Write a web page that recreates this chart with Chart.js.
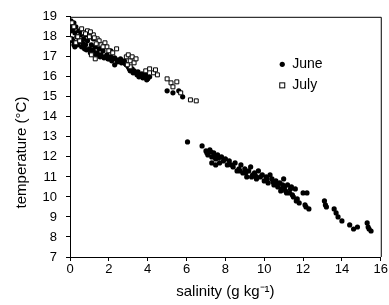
<!DOCTYPE html>
<html>
<head>
<meta charset="utf-8">
<script src="https://cdn.jsdelivr.net/npm/chart.js@4/dist/chart.umd.min.js"></script>
<style>
  html, body { margin: 0; padding: 0; background: #fff; }
  #wrap { width: 389px; height: 305px; }
</style>
</head>
<body>
<div id="wrap"><canvas id="tsChart" width="389" height="305"></canvas></div>
<script>
// salinity (g/kg) vs temperature (C)
var seriesNames = ["June", "July"];

var juneSalinity = [0.05, 0.1, 0.15, 0.2, 0.25, 0.3, 0.35, 0.1, 0.2, 0.3, 0.45, 0.5, 0.55, 0.6, 0.7, 0.8, 0.9, 1.0,
    1.1, 1.2, 1.3, 1.4, 1.5, 1.6, 1.7, 1.8, 1.9, 2.0, 2.1, 2.2, 2.3, 2.4, 2.5, 2.6, 2.7, 2.8, 2.9, 3.0,
    3.1, 3.2, 3.3, 3.4, 3.5, 3.6, 3.7, 3.8, 3.9, 4.0, 4.1, 0.6, 0.8, 1.0, 1.2, 2.1, 2.3,
    0.0, 0.05, 0.15, 0.25, 0.4, 0.65, 0.75, 0.85, 1.05, 1.15, 1.35, 1.55, 1.75, 1.95, 2.15, 2.45,
    2.65, 2.85, 3.05, 3.25, 3.45, 3.55, 3.75, 3.95,
    5.0, 5.3, 5.6, 5.8,
    6.05, 6.8, 7.0, 7.1, 7.2, 7.3, 7.4, 7.5, 7.6, 7.7, 7.8, 7.9, 8.0, 8.1, 8.2, 8.4, 8.5, 8.6, 8.7, 8.8,
    8.9, 9.0, 9.1, 9.2, 9.3, 9.4, 9.5, 9.6, 9.7, 9.8, 9.9, 10.0, 10.1, 10.2, 10.3, 10.4, 10.5, 10.6,
    10.7, 10.8, 10.9, 11.0, 11.1, 11.2, 11.3, 11.4, 11.5, 11.6, 11.7, 11.8, 12.0, 12.1, 12.2, 12.3,
    13.1, 13.2, 13.6, 13.8, 14.0, 14.4, 14.6, 14.8, 15.3, 15.4, 15.5, 7.3, 7.5,
    7.05, 7.25, 7.45, 7.65, 8.3, 8.75, 9.05, 9.35, 9.55, 10.15, 10.45, 10.65, 10.85, 10.95, 11.05,
    11.15, 11.35, 11.45, 11.65, 12.15, 13.15, 13.7, 15.35];
var juneTemp = [18.8, 18.6, 18.4, 18.7, 18.2, 18.5, 18.0, 17.9, 17.6, 17.7, 18.3, 17.8, 18.1, 17.5, 17.9, 17.6, 17.8, 17.4,
    17.6, 17.3, 17.5, 17.2, 17.4, 17.1, 17.3, 17.0, 17.1, 16.9, 17.0, 16.9, 16.95, 16.85, 16.8, 16.9, 16.75, 16.8, 16.6, 16.5,
    16.3, 16.4, 16.3, 16.2, 16.25, 16.1, 16.15, 16.0, 16.1, 15.9, 16.0, 18.3, 18.1, 18.0, 17.9, 17.3, 16.6,
    18.6, 18.3, 17.8, 17.5, 17.6, 17.7, 17.4, 17.35, 17.2, 17.35, 17.1, 17.0, 16.95, 16.9, 16.8, 16.75,
    16.7, 16.65, 16.4, 16.2, 16.1, 16.0, 15.95, 15.85,
    15.3, 15.2, 15.3, 15.0,
    12.75, 12.55, 12.3, 12.1, 12.35, 12.0, 12.2, 11.9, 12.1, 11.7, 12.0, 11.8, 11.9, 11.6, 11.8, 11.5, 11.7, 11.3, 11.4, 11.6,
    11.2, 11.4, 11.0, 11.3, 11.5, 11.1, 11.2, 10.9, 11.3, 11.0, 11.1, 10.8, 11.0, 10.7, 11.1, 10.9, 10.6, 10.8,
    10.5, 10.7, 10.4, 10.9, 10.3, 10.6, 10.2, 10.5, 10.0, 10.4, 9.9, 9.7, 10.2, 9.6, 10.2, 9.4,
    9.8, 9.5, 9.4, 9.0, 8.8, 8.6, 8.4, 8.5, 8.7, 8.4, 8.3, 11.7, 11.6,
    12.2, 12.25, 12.0, 11.95, 11.6, 11.3, 11.2, 11.0, 11.05, 10.9, 10.75, 10.6, 10.3, 10.6, 10.5,
    10.2, 10.4, 10.1, 9.8, 9.5, 9.6, 9.2, 8.5];

var julySalinity = [0.1, 0.2, 0.0, 0.3, 0.5, 0.7, 0.9, 1.0, 1.1, 1.2, 1.3, 1.4, 1.5, 1.6, 1.8, 1.9, 2.0, 2.4,
    2.9, 3.0, 3.1, 3.2, 3.3, 3.1, 3.9, 4.1, 4.3, 4.5, 4.4, 5.0, 5.2, 5.5, 5.3, 5.7, 6.2, 6.5,
    0.4, 0.6, 0.8, 1.05, 1.25, 1.35, 1.7, 2.2, 3.4, 2.95];
var julyTemp = [18.7, 18.5, 17.9, 17.7, 17.8, 18.2, 18.3, 18.0, 17.1, 18.1, 16.9, 17.9, 17.8, 17.6, 17.7, 17.5, 17.3, 17.4,
    17.0, 17.1, 16.8, 17.0, 16.7, 16.5, 16.3, 16.4, 16.2, 16.1, 16.35, 15.9, 15.7, 15.75, 15.5, 15.2, 14.85, 14.8,
    18.0, 18.4, 18.15, 18.25, 17.95, 17.65, 17.5, 17.2, 16.9, 16.6];

var xTicks = [0, 2, 4, 6, 8, 10, 12, 14, 16];
var yTicks = [7, 8, 9, 10, 11, 12, 13, 14, 15, 16, 17, 18, 19];

var xTitle = "salinity (g kg\u207B\u00B9)";
var yTitle = "temperature (\u00B0C)";

function toPoints(xs, ys) {
    var pts = [];
    for (var i = 0; i < xs.length; i++) {
        pts.push({ x: xs[i], y: ys[i] });
    }
    return pts;
}

var fontFamily = "'Liberation Sans', Arial, Helvetica, sans-serif";

// box on top and right, plus y title and the legend inside the plot
var extrasPlugin = {
    id: "extras",
    afterDraw: function (chart) {
        var ctx = chart.ctx;
        var a = chart.chartArea;
        ctx.save();
        ctx.strokeStyle = "#000";
        ctx.lineWidth = 1;
        ctx.beginPath();
        ctx.moveTo(a.left, a.top + 0.5);
        ctx.lineTo(a.right + 0.5, a.top + 0.5);
        ctx.lineTo(a.right + 0.5, a.bottom);
        ctx.stroke();

        // y axis title
        ctx.fillStyle = "#000";
        ctx.font = "15px " + fontFamily;
        ctx.textAlign = "center";
        ctx.textBaseline = "middle";
        ctx.translate(22, a.top + (a.bottom - a.top) * 0.565);
        ctx.rotate(-Math.PI / 2);
        ctx.fillText(yTitle, 0, 0);
        ctx.restore();

        // legend
        ctx.save();
        var lx = a.left + (a.right - a.left) * 0.683;
        var ly = a.top + (a.bottom - a.top) * 0.198;
        ctx.font = "14px " + fontFamily;
        ctx.textAlign = "left";
        ctx.textBaseline = "middle";
        ctx.fillStyle = "#000";
        ctx.beginPath();
        ctx.arc(lx, ly, 2.6, 0, Math.PI * 2);
        ctx.fill();
        ctx.fillText(seriesNames[0], lx + 10, ly);
        ctx.strokeStyle = "#000";
        ctx.lineWidth = 1;
        ctx.strokeRect(lx - 2.5, ly + 21 - 2.5, 5, 5);
        ctx.fillText(seriesNames[1], lx + 10, ly + 21);
        ctx.restore();
    }
};

var ctx = document.getElementById("tsChart").getContext("2d");
var tsChart = new Chart(ctx, {
    type: "scatter",
    data: {
        datasets: [{
            label: seriesNames[1],
            data: toPoints(julySalinity, julyTemp),
            pointStyle: "rect",
            pointRadius: 2.8,
            backgroundColor: "#fff",
            borderColor: "#000",
            borderWidth: 1
        },
        {
            label: seriesNames[0],
            data: toPoints(juneSalinity, juneTemp),
            pointStyle: "circle",
            pointRadius: 2.6,
            backgroundColor: "#000",
            borderColor: "#000",
            borderWidth: 0
        }]
    },
    options: {
        responsive: false,
        animation: false,
        layout: { padding: { top: 15, right: 7, left: 0, bottom: 0 } },
        plugins: {
            legend: { display: false },
            tooltip: { enabled: false }
        },
        scales: {
            x: {
                type: "linear",
                min: 0,
                max: 16,
                afterBuildTicks: function (axis) {
                    axis.ticks = xTicks.map(function (v) { return { value: v }; });
                },
                afterFit: function (axis) { axis.height = 48; },
                grid: { drawOnChartArea: false, drawTicks: true, tickLength: 4, color: "#000" },
                border: { display: true, color: "#000", width: 1 },
                ticks: { color: "#000", padding: 1, font: { family: fontFamily, size: 13 }, maxRotation: 0 },
                title: {
                    display: true,
                    text: xTitle,
                    color: "#000",
                    font: { family: fontFamily, size: 15 },
                    padding: { top: 4, bottom: 4 }
                }
            },
            y: {
                type: "linear",
                min: 7,
                max: 19,
                afterBuildTicks: function (axis) {
                    axis.ticks = yTicks.map(function (v) { return { value: v }; });
                },
                afterFit: function (axis) { axis.width = 70; },
                grid: { drawOnChartArea: false, drawTicks: true, tickLength: 4, color: "#000" },
                border: { display: true, color: "#000", width: 1 },
                ticks: { color: "#000", padding: 9, font: { family: fontFamily, size: 13 } }
            }
        }
    },
    plugins: [extrasPlugin]
});
</script>
</body>
</html>
